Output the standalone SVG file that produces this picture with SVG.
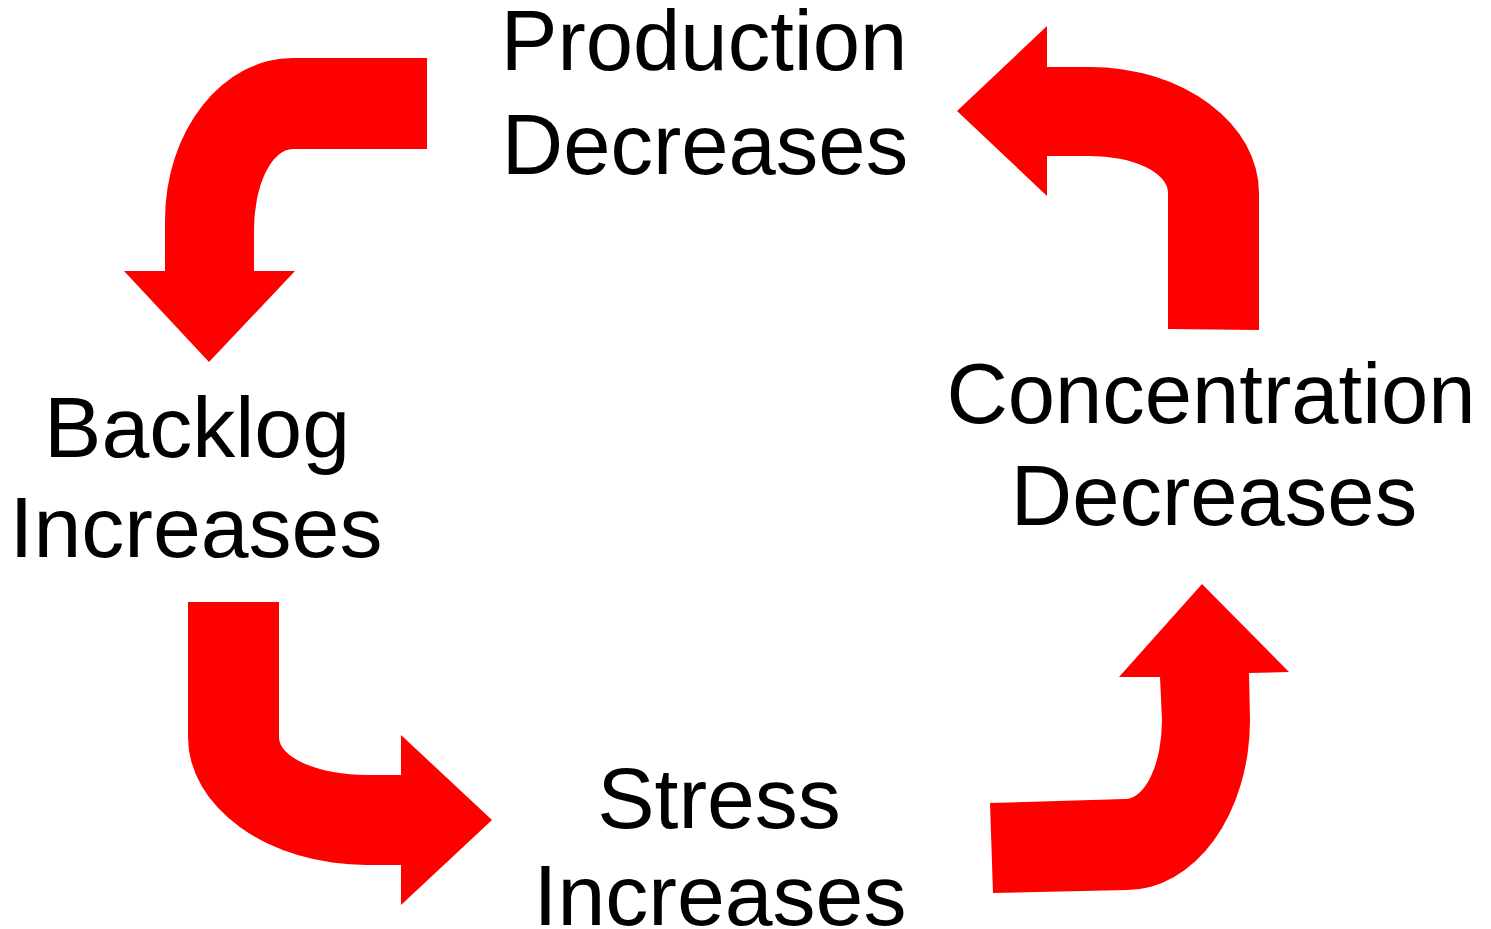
<svg xmlns="http://www.w3.org/2000/svg" width="1491" height="929" viewBox="0 0 1491 929">
  <style>
    .label { font-family: "Liberation Sans", Arial, sans-serif; fill: #000; text-anchor: middle; }
    .arrow { fill: #ff0000; stroke: none; }
  </style>
  <rect width="1491" height="929" fill="#ffffff"/>

  <!-- cycle arrows -->
  <g id="connectors">
    <!-- Production -> Backlog -->
    <path class="arrow" d="M 427 58 L 427 149 L 293 149 A 39 81 0 0 0 254 230 L 254 271 L 295 271 L 209 362 L 124 271 L 165 271 L 165 220 A 128 162 0 0 1 293 58 Z"/>
    <!-- Backlog -> Stress -->
    <path class="arrow" d="M 188 602 L 279 602 L 279 737 A 88 38 0 0 0 367 775 L 401 775 L 401 735 L 492 820 L 401 905 L 401 865 L 367 865 A 179 128 0 0 1 188 737 Z"/>
    <!-- Stress -> Concentration -->
    <path class="arrow" d="M 993 893 L 990 803 L 1125 799 A 37 79 0 0 0 1162 720 L 1160 677 L 1119 677 L 1202 584 L 1289 672 L 1249 673 L 1250 720 A 123 170 0 0 1 1127 890 Z"/>
    <!-- Concentration -> Production -->
    <path class="arrow" d="M 957 111 L 1047 26 L 1047 67 L 1090 67 A 169 126 0 0 1 1259 193 L 1259 330 L 1168 329 L 1168 193 A 78 37 0 0 0 1090 156 L 1047 156 L 1047 196 Z"/>
  </g>

  <g id="node-production">
    <text class="label" x="704" y="70" font-size="85">Production</text>
    <text class="label" x="705" y="174" font-size="85">Decreases</text>
  </g>
  <g id="node-backlog">
    <text class="label" x="197" y="457" font-size="86">Backlog</text>
    <text class="label" x="196" y="557" font-size="86">Increases</text>
  </g>
  <g id="node-stress">
    <text class="label" x="719" y="828" font-size="86">Stress</text>
    <text class="label" x="720" y="925" font-size="86">Increases</text>
  </g>
  <g id="node-concentration">
    <text class="label" x="1211" y="423" font-size="85">Concentration</text>
    <text class="label" x="1214" y="525" font-size="85">Decreases</text>
  </g>
</svg>
